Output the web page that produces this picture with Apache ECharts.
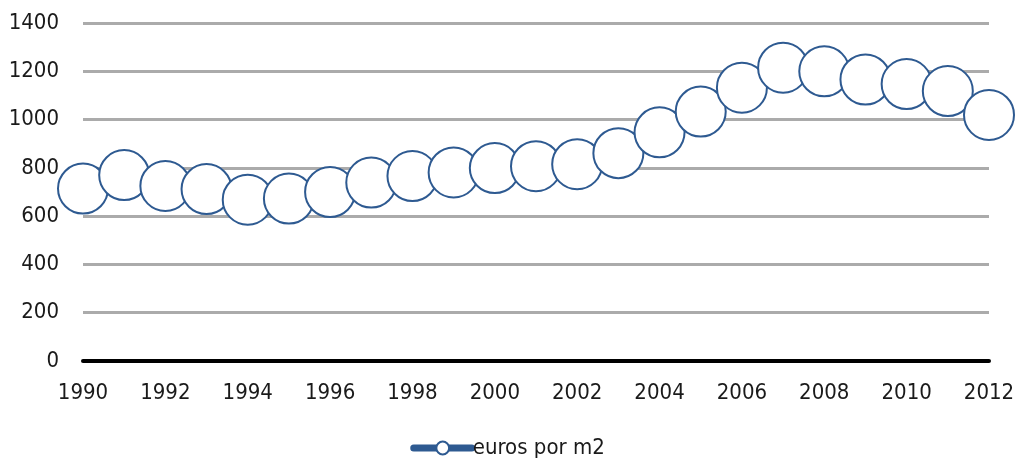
<!DOCTYPE html>
<html>
<head>
<meta charset="utf-8">
<script src="https://cdn.jsdelivr.net/npm/echarts@6/dist/echarts.min.js"></script>
<style>
html,body{margin:0;padding:0;background:#fff;}
#chart{width:1015px;height:464px;}
</style>
</head>
<body>
<div id="chart"></div>
<script>
const years = ["1990","1991","1992","1993","1994","1995","1996","1997","1998","1999","2000","2001","2002","2003","2004","2005","2006","2007","2008","2009","2010","2011","2012"];
const eurosPorM2 = [714,770,725,712,668,673,700,739,766,781,799,807,815,861,947,1033,1132,1215,1200,1166,1147,1118,1019];
const seriesName = "euros por m2";
const yTicks = [0,200,400,600,800,1000,1200,1400];

const FONT = '"Liberation Sans Narrow","Arial Narrow","DejaVu Sans Condensed",sans-serif';
const chart = echarts.init(document.getElementById('chart'));
chart.setOption({
  animation: false,
  backgroundColor: '#ffffff',
  grid: {left: 83, right: 26, top: 23, bottom: 103, containLabel: false, outerBoundsMode: 'none'},
  xAxis: {
    type: 'category',
    data: years,
    boundaryGap: false,
    axisLine: {show: true, lineStyle: {color: '#000', width: 4}},
    axisTick: {show: false},
    axisLabel: {interval: 1, color: '#1a1a1a', fontFamily: FONT, fontSize: 22, margin: 21},
    splitLine: {show: false}
  },
  yAxis: {
    type: 'value',
    min: yTicks[0],
    max: yTicks[yTicks.length - 1],
    interval: 200,
    axisLine: {show: false},
    axisTick: {show: false},
    axisLabel: {color: '#1a1a1a', fontFamily: FONT, fontSize: 22, margin: 24, formatter: v => String(v)},
    splitLine: {show: true, lineStyle: {color: '#ababab', width: 3}}
  },
  legend: {
    bottom: 0,
    left: 'center',
    itemWidth: 58,
    itemHeight: 16,
    itemGap: 10,
    lineStyle: {width: 7, color: '#2E5A91', cap: 'round'},
    itemStyle: {color: '#ffffff', borderColor: '#2E5A91', borderWidth: 2},
    textStyle: {color: '#1a1a1a', fontFamily: FONT, fontSize: 22, padding: [0,0,0,-4]},
    data: [seriesName]
  },
  series: [{
    name: seriesName,
    type: 'line',
    data: eurosPorM2,
    symbol: 'circle',
    symbolSize: 50,
    showAllSymbol: true,
    lineStyle: {color: '#2E5A91', width: 6},
    itemStyle: {color: '#ffffff', borderColor: '#2E5A91', borderWidth: 2},
    emphasis: {disabled: true},
    z: 3
  }]
});
</script>
</body>
</html>
